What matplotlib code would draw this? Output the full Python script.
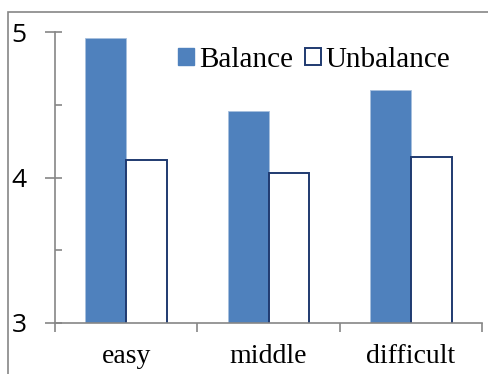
import matplotlib
matplotlib.use('Agg')
import matplotlib.pyplot as plt
from matplotlib.patches import Patch, Rectangle
import numpy as np

# data
categories = ['easy', 'middle', 'difficult']
balance = [4.96, 4.46, 4.60]
unbalance = [4.12, 4.03, 4.14]

blue = '#4F81BD'
navy = '#1F3A70'
grey = '#868686'
serif = 'Liberation Serif'

fig = plt.figure(figsize=(4.89, 3.74), dpi=100)
ax = fig.add_axes([55/489, 1-323/374, (482-55)/489, (323-32)/374])

# outer chart frame (runs off the right and bottom of the picture)
fig.patches.append(Rectangle((8/489, -0.1), 1.2, 1 - 12/374 + 0.1,
                             transform=fig.transFigure, fill=False,
                             edgecolor=grey, linewidth=1.2))

x = np.arange(len(categories))
w = 0.287
ax.bar(x - w/2, balance, w, color=blue, edgecolor='#A7BFDE',
       linewidth=0.6, label='Balance')
ax.bar(x + w/2, unbalance, w, color='white', edgecolor=navy,
       linewidth=1.4, label='Unbalance')

ax.set_xlim(-0.5, 2.5)
ax.set_ylim(3, 5)

for s in ['top', 'right']:
    ax.spines[s].set_visible(False)
for s in ['left', 'bottom']:
    ax.spines[s].set_color(grey)
    ax.spines[s].set_linewidth(1.2)

# y axis: major ticks outward, minor ticks inward every 0.5
ax.set_yticks([3, 4, 5])
ax.set_yticklabels(['3', '4', '5'], fontsize=19, family='Open Sans')
ax.set_yticks([3, 3.5, 4, 4.5, 5], minor=True)
ax.yaxis.remove_overlapping_locs = False
ax.tick_params(axis='y', which='major', direction='out', length=7.5,
               width=1.2, color=grey, pad=13)
ax.tick_params(axis='y', which='minor', direction='in', length=5,
               width=1.2, color=grey)

# x axis: labels centred, ticks on category boundaries
ax.set_xticks(x)
ax.set_xticklabels(categories, fontsize=20, family=serif)
ax.set_xticks([-0.5, 0.5, 1.5, 2.5], minor=True)
ax.tick_params(axis='x', which='major', length=0, pad=15)
ax.tick_params(axis='x', which='minor', direction='out', length=6.5,
               width=1.2, color=grey)

handles = [Patch(facecolor=blue, edgecolor=blue, label='Balance'),
           Patch(facecolor='white', edgecolor=navy, linewidth=1.4,
                 label='Unbalance')]
ax.legend(handles=handles, loc='center left', bbox_to_anchor=(0.288, 0.905),
          ncol=2, frameon=False, prop={'family': serif, 'size': 21},
          handlelength=0.55, handleheight=0.55, handletextpad=0.17,
          columnspacing=0.4, borderpad=0, borderaxespad=0)

fig.savefig('out.png', dpi=100)
